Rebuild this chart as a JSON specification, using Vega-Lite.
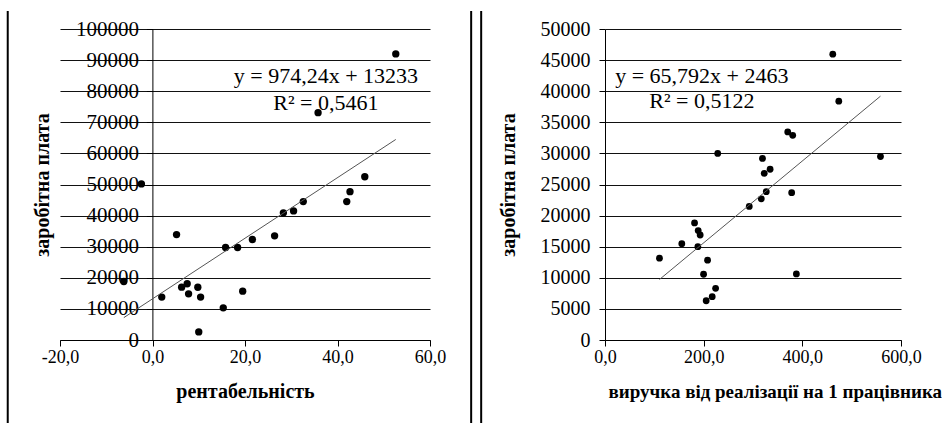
{
  "$schema": "https://vega.github.io/schema/vega-lite/v6.json",
  "padding": {"left": 6, "top": 9, "right": 0, "bottom": 0},
  "spacing": 24,
  "config": {
    "font": "Liberation Serif, Times New Roman, serif",
    "locale": {"number": {"decimal": ",", "thousands": "", "grouping": [3], "currency": ["", ""], "minus": "-"}},
    "view": {"stroke": null},
    "text": {"font": "Liberation Serif, Times New Roman, serif"},
    "style": {
      "guide-label": {"font": "Liberation Serif, Times New Roman, serif"},
      "guide-title": {"font": "Liberation Serif, Times New Roman, serif"}
    },
    "axis": {
      "labelFont": "Liberation Serif, Times New Roman, serif",
      "titleFont": "Liberation Serif, Times New Roman, serif",
      "labelColor": "#000",
      "titleColor": "#000",
      "domainColor": "#000",
      "tickColor": "#000",
      "gridColor": "#111",
      "gridOpacity": 1,
      "domainWidth": 1,
      "tickWidth": 1,
      "gridWidth": 1,
      "labelFlush": false,
      "labelOverlap": false,
      "labelBound": false,
      "titleFontWeight": "bold"
    }
  },
  "datasets": {
    "left": [
      {"rent": -6.2, "zp": 18800},
      {"rent": -2.4, "zp": 50200},
      {"rent": 2.0, "zp": 13800},
      {"rent": 5.2, "zp": 33900},
      {"rent": 6.3, "zp": 17000},
      {"rent": 7.5, "zp": 18100},
      {"rent": 7.8, "zp": 14850},
      {"rent": 9.8, "zp": 16950},
      {"rent": 10.4, "zp": 13800},
      {"rent": 10.0, "zp": 2600},
      {"rent": 15.3, "zp": 10350},
      {"rent": 15.8, "zp": 29750},
      {"rent": 18.4, "zp": 29750},
      {"rent": 19.5, "zp": 15700},
      {"rent": 21.6, "zp": 32300},
      {"rent": 26.4, "zp": 33500},
      {"rent": 28.3, "zp": 40900},
      {"rent": 30.5, "zp": 41500},
      {"rent": 32.6, "zp": 44500},
      {"rent": 35.8, "zp": 73100},
      {"rent": 42.0, "zp": 44500},
      {"rent": 42.7, "zp": 47700},
      {"rent": 45.9, "zp": 52500},
      {"rent": 52.6, "zp": 92000}
    ],
    "leftTrend": [
      {"rent": -6.2, "zp": 7193},
      {"rent": 52.6, "zp": 64478}
    ],
    "right": [
      {"vyr": 110.4, "zp": 13160},
      {"vyr": 155.7, "zp": 15480},
      {"vyr": 181.5, "zp": 18820},
      {"vyr": 188.2, "zp": 15000},
      {"vyr": 188.9, "zp": 17590},
      {"vyr": 192.9, "zp": 16880},
      {"vyr": 199.8, "zp": 10570},
      {"vyr": 205.1, "zp": 6310},
      {"vyr": 207.9, "zp": 12830},
      {"vyr": 217.3, "zp": 6960},
      {"vyr": 224.2, "zp": 8300},
      {"vyr": 228.5, "zp": 30000},
      {"vyr": 292.4, "zp": 21470},
      {"vyr": 316.8, "zp": 22700},
      {"vyr": 319.2, "zp": 29200},
      {"vyr": 322.8, "zp": 26800},
      {"vyr": 326.9, "zp": 23840},
      {"vyr": 334.7, "zp": 27450},
      {"vyr": 370.4, "zp": 33450},
      {"vyr": 378.4, "zp": 23680},
      {"vyr": 380.5, "zp": 32900},
      {"vyr": 387.9, "zp": 10630},
      {"vyr": 461.7, "zp": 45950},
      {"vyr": 473.9, "zp": 38400},
      {"vyr": 558.4, "zp": 29500}
    ],
    "rightTrend": [
      {"vyr": 110.4, "zp": 9726},
      {"vyr": 558.4, "zp": 39201}
    ]
  },
  "hconcat": [
    {
      "width": 370,
      "height": 311,
      "layer": [
        {
          "data": {"name": "left"},
          "mark": {"type": "circle", "color": "#000", "size": 54, "opacity": 1},
          "encoding": {
            "x": {
              "field": "rent", "type": "quantitative",
              "scale": {"domain": [-20, 60], "nice": false, "zero": false},
              "axis": {
                "values": [-20, 0, 20, 40, 60], "tickCount": 5, "format": ".1f", "grid": false,
                "tickSize": 6, "labelPadding": 2, "labelFontSize": 18,
                "title": "рентабельність", "titleFontSize": 20, "titlePadding": 15
              }
            },
            "y": {
              "field": "zp", "type": "quantitative",
              "scale": {"domain": [0, 100000], "nice": false, "zero": false},
              "axis": {
                "values": [0, 10000, 20000, 30000, 40000, 50000, 60000, 70000, 80000, 90000, 100000],
                "tickCount": 11,
                "format": "d", "grid": true, "offset": -92.4,
                "tickSize": 6, "labelPadding": 8, "labelFontSize": 21,
                "title": "заробітна плата", "titleFontSize": 20, "titleX": -100
              }
            }
          }
        },
        {
          "data": {"name": "leftTrend"},
          "mark": {"type": "line", "color": "#555", "strokeWidth": 1},
          "encoding": {
            "x": {"field": "rent", "type": "quantitative"},
            "y": {"field": "zp", "type": "quantitative"}
          }
        },
        {
          "data": {"values": [{}]},
          "mark": {"type": "text", "fontSize": 22, "color": "#000", "align": "center", "baseline": "middle"},
          "encoding": {
            "x": {"datum": 37.5},
            "y": {"datum": 84900},
            "text": {"value": "y = 974,24x + 13233"}
          }
        },
        {
          "data": {"values": [{}]},
          "mark": {"type": "text", "fontSize": 22, "color": "#000", "align": "center", "baseline": "middle"},
          "encoding": {
            "x": {"datum": 37.5},
            "y": {"datum": 76200},
            "text": {"value": "R² = 0,5461"}
          }
        },
        {
          "data": {"values": [{}]},
          "mark": {"type": "rule", "color": "#000", "strokeWidth": 2},
          "encoding": {
            "x": {"datum": -31.3},
            "y": {"datum": 105800},
            "y2": {"datum": -26700}
          }
        }
      ]
    },
    {
      "width": 296,
      "height": 311,
      "layer": [
        {
          "data": {"name": "right"},
          "mark": {"type": "circle", "color": "#000", "size": 46, "opacity": 1},
          "encoding": {
            "x": {
              "field": "vyr", "type": "quantitative",
              "scale": {"domain": [0, 600], "nice": false, "zero": false},
              "axis": {
                "values": [0, 200, 400, 600], "tickCount": 4, "format": ".1f", "grid": false,
                "tickSize": 6, "labelPadding": 2, "labelFontSize": 18,
                "title": "виручка від реалізації на 1 працівника", "titleFontSize": 19,
                "titlePadding": 16, "titleX": 3, "titleAlign": "left"
              }
            },
            "y": {
              "field": "zp", "type": "quantitative",
              "scale": {"domain": [0, 50000], "nice": false, "zero": false},
              "axis": {
                "values": [0, 5000, 10000, 15000, 20000, 25000, 30000, 35000, 40000, 45000, 50000],
                "tickCount": 11,
                "format": "d", "grid": true,
                "tickSize": 6, "labelPadding": 9, "labelFontSize": 20,
                "title": "заробітна плата", "titleFontSize": 20, "titleX": -87
              }
            }
          }
        },
        {
          "data": {"name": "rightTrend"},
          "mark": {"type": "line", "color": "#555", "strokeWidth": 1},
          "encoding": {
            "x": {"field": "vyr", "type": "quantitative"},
            "y": {"field": "zp", "type": "quantitative"}
          }
        },
        {
          "data": {"values": [{}]},
          "mark": {"type": "text", "fontSize": 22, "color": "#000", "align": "center", "baseline": "middle"},
          "encoding": {
            "x": {"datum": 196.3},
            "y": {"datum": 42400},
            "text": {"value": "y = 65,792x + 2463"}
          }
        },
        {
          "data": {"values": [{}]},
          "mark": {"type": "text", "fontSize": 22, "color": "#000", "align": "center", "baseline": "middle"},
          "encoding": {
            "x": {"datum": 196.3},
            "y": {"datum": 38350},
            "text": {"value": "R² = 0,5122"}
          }
        },
        {
          "data": {"values": [{}]},
          "mark": {"type": "rule", "color": "#000", "strokeWidth": 2},
          "encoding": {
            "x": {"datum": -271.3},
            "y": {"datum": 52900},
            "y2": {"datum": -13340}
          }
        },
        {
          "data": {"values": [{}]},
          "mark": {"type": "rule", "color": "#000", "strokeWidth": 2},
          "encoding": {
            "x": {"datum": -251.0},
            "y": {"datum": 52900},
            "y2": {"datum": -13340}
          }
        }
      ]
    }
  ]
}
